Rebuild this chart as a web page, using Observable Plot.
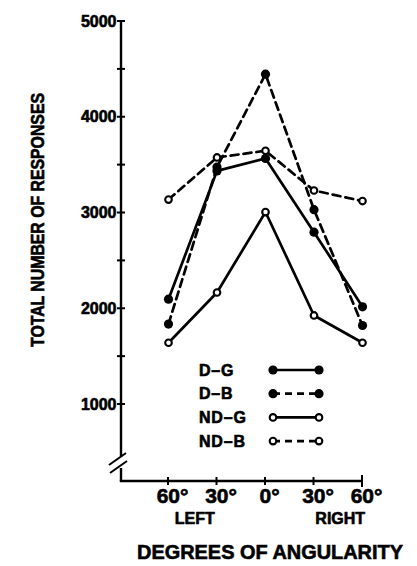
<!DOCTYPE html>
<html><head><meta charset="utf-8">
<script src="https://cdn.jsdelivr.net/npm/d3@7"></script>
<script src="https://cdn.jsdelivr.net/npm/@observablehq/plot@0.6"></script>
<style>html,body{margin:0;padding:0;background:#fff}svg{display:block}</style>
</head><body><div id="chart"></div>
<script>
// ---- data ----
const angles = [-60, -30, 0, 30, 60];
const angleLabels = ["60°", "30°", "0°", "30°", "60°"];
const seriesNames = ["D–G", "D–B", "ND–G", "ND–B"];
const dG  = [2100, 3440, 3570, 2800, 2020];
const dB  = [1840, 3480, 4450, 3035, 1825];
const ndG = [1645, 2170, 3010, 1930, 1645];
const ndB = [3140, 3580, 3650, 3235, 3125];
const yTicksMajor = [1000, 2000, 3000, 4000, 5000];
const yTicksAll = [1000, 1500, 2000, 2500, 3000, 3500, 4000, 4500, 5000];
const sideLabels = ["LEFT", "RIGHT"];
const xTitle = "DEGREES OF ANGULARITY";
const yTitle = "TOTAL NUMBER OF RESPONSES";
const yBase = 196; // bottom of the broken y axis

// ---- styling per series ----
const valuesBySeries = [dG, dB, ndG, ndB];
const filled = [true, true, false, false];
const dashed = [false, true, false, true];

const rows = [];
seriesNames.forEach((s, si) => angles.forEach((a, i) =>
  rows.push({series: s, angle: a, value: valuesBySeries[si][i], filled: filled[si], dashed: dashed[si]})));

const FONT = "'Liberation Sans', Arial, sans-serif";
const heavy = {fill: "black", stroke: "black", strokeWidth: 0.6, fontWeight: "bold"};
const marks = [];
seriesNames.forEach((s, si) => {
  marks.push(Plot.line(rows.filter(d => d.series === s), {
    x: "angle", y: "value", stroke: "black", strokeWidth: 2.7,
    strokeDasharray: dashed[si] ? "8,5" : null, strokeLinejoin: "miter"
  }));
});
marks.push(Plot.dot(rows.filter(d => d.filled), {x: "angle", y: "value", r: 4.6, fill: "black", stroke: "none"}));
marks.push(Plot.dot(rows.filter(d => !d.filled), {x: "angle", y: "value", r: 3.3, fill: "white", stroke: "black", strokeWidth: 2.1}));
// y tick labels
marks.push(Plot.text(yTicksMajor, {y: d => d, text: d => String(d), frameAnchor: "left", textAnchor: "end", dx: -5, fontSize: 16, ...heavy}));
// x tick labels
marks.push(Plot.text(angles, {x: d => d, text: d => angleLabels[angles.indexOf(d)], frameAnchor: "bottom", dy: 21, dx: 4, fontSize: 21, ...heavy}));
// LEFT / RIGHT
const sideX = [d3.mean(angles.slice(0, 2)), d3.mean(angles.slice(3, 5))];
marks.push(Plot.text(sideLabels, {x: (d, i) => sideX[i], text: d => d, frameAnchor: "bottom", dy: 42, dx: 2, fontSize: 16, ...heavy}));

const chart = Plot.plot({
  width: 417, height: 566,
  marginTop: 21, marginBottom: 85, marginLeft: 121, marginRight: 55,
  style: {fontFamily: FONT, background: "white", color: "black"},
  x: {domain: [-60, 60], insetLeft: 47, axis: null},
  y: {domain: [yBase, 5000], axis: null},
  marks
});
document.getElementById("chart").appendChild(chart);

// ---- axis lines, ticks, break, legend, titles ----
const X = chart.scale("x").apply, Y = chart.scale("y").apply;
const svg = d3.select(chart);
const g = svg.append("g").attr("stroke", "black").attr("fill", "none");
const ax = 121, by = Y(yBase);
// y axis with break
g.append("line").attr("x1", ax).attr("x2", ax).attr("y1", Y(5000)).attr("y2", by - 24).attr("stroke-width", 2.4);
g.append("line").attr("x1", ax).attr("x2", ax).attr("y1", by - 13).attr("y2", by).attr("stroke-width", 2.4);
g.append("line").attr("x1", ax - 12).attr("x2", ax + 5).attr("y1", by - 16).attr("y2", by - 28).attr("stroke-width", 2);
g.append("line").attr("x1", ax - 11).attr("x2", ax + 6).attr("y1", by - 8).attr("y2", by - 20).attr("stroke-width", 2);
// y ticks
yTicksAll.forEach(t => g.append("line").attr("x1", ax - 4).attr("x2", ax + 4).attr("y1", Y(t)).attr("y2", Y(t)).attr("stroke-width", 2));
// x axis
g.append("line").attr("x1", ax - 1.2).attr("x2", X(60)).attr("y1", by).attr("y2", by).attr("stroke-width", 2.4);
angles.forEach((a, i) => g.append("line").attr("x1", X(a)).attr("x2", X(a))
  .attr("y1", by - (i === angles.length - 1 ? 6 : 4)).attr("y2", by + (i === angles.length - 1 ? 6 : 4)).attr("stroke-width", 2));

// legend
const lg = svg.append("g");
const legendTop = 370, legendStep = 23.7, lx = 199, l1 = 273, l2 = 319;
seriesNames.forEach((s, i) => {
  const yy = legendTop + i * legendStep;
  lg.append("text").attr("x", lx).attr("y", yy).attr("dy", "0.36em").attr("text-anchor", "start")
    .attr("font-family", FONT).attr("font-weight", "bold").attr("font-size", 16)
    .attr("stroke", "black").attr("stroke-width", 0.6).attr("letter-spacing", 0.8).text(s);
  lg.append("line").attr("x1", l1).attr("x2", l2).attr("y1", yy).attr("y2", yy)
    .attr("stroke", "black").attr("stroke-width", 2.7).attr("stroke-dasharray", dashed[i] ? "7,5" : null);
  [l1, l2].forEach(cx => lg.append("circle").attr("cx", cx).attr("cy", yy)
    .attr("r", filled[i] ? 4.6 : 3.3).attr("fill", filled[i] ? "black" : "white")
    .attr("stroke", filled[i] ? "none" : "black").attr("stroke-width", 2.1));
});

// titles
svg.append("text").attr("x", 270).attr("y", 552).attr("dy", "0.36em").attr("text-anchor", "middle")
  .attr("font-family", FONT).attr("font-weight", "bold").attr("font-size", 20)
  .attr("stroke", "black").attr("stroke-width", 0.6)
  .attr("textLength", 266).attr("lengthAdjust", "spacingAndGlyphs").text(xTitle);
svg.append("text").attr("transform", "translate(38,220) rotate(-90)").attr("dy", "0.36em").attr("text-anchor", "middle")
  .attr("font-family", FONT).attr("font-weight", "bold").attr("font-size", 18)
  .attr("stroke", "black").attr("stroke-width", 0.6)
  .attr("textLength", 254).attr("lengthAdjust", "spacingAndGlyphs").text(yTitle);
</script>
</body></html>
